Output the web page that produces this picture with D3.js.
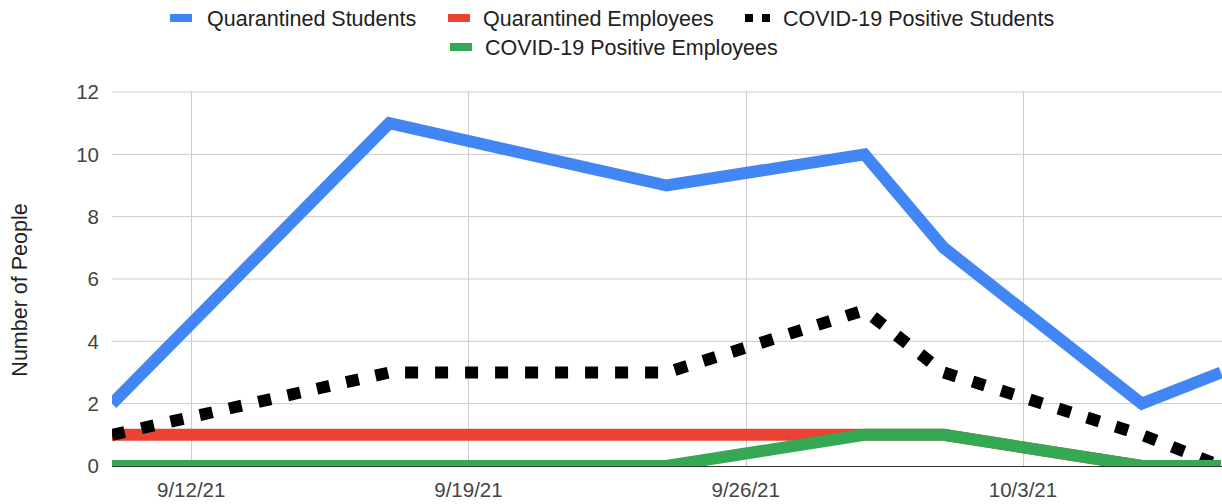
<!DOCTYPE html>
<html>
<head>
<meta charset="utf-8">
<script src="https://cdn.jsdelivr.net/npm/d3@7"></script>
<style>
  body { margin: 0; background: #fff; }
  text { font-family: Arial, "Liberation Sans", sans-serif; }
</style>
</head>
<body>
<div id="chart"></div>
<script>
// data
const dates = ["2021-09-10", "2021-09-17", "2021-09-24", "2021-09-29", "2021-10-01", "2021-10-06", "2021-10-08"];
const quarantinedStudents = [2, 11, 9, 10, 7, 2, 3];
const quarantinedEmployees = [1, 1, 1, 1, 1, 0, 0];
const positiveStudents = [1, 3, 3, 5, 3, 1, 0];
const positiveEmployees = [0, 0, 0, 1, 1, 0, 0];
const xTicks = ["2021-09-12", "2021-09-19", "2021-09-26", "2021-10-03"];
const yTicks = [0, 2, 4, 6, 8, 10, 12];

const seriesNames = ["Quarantined Students", "Quarantined Employees", "COVID-19 Positive Students", "COVID-19 Positive Employees"];
const seriesColors = ["#4285f4", "#ea4335", "#000000", "#34a853"];
const seriesValues = [quarantinedStudents, quarantinedEmployees, positiveStudents, positiveEmployees];

const W = 1222, H = 504;
const margin = { top: 92, right: 1, bottom: 38, left: 112 };

const parse = d3.timeParse("%Y-%m-%d");
const fmt = d3.timeFormat("%-m/%-d/%y");

const svg = d3.select("#chart")
    .append("svg")
    .attr("width", W)
    .attr("height", H);

const x = d3.scaleTime()
    .domain([parse(dates[0]), parse(dates[dates.length - 1])])
    .range([margin.left, W - margin.right]);

const y = d3.scaleLinear()
    .domain([0, 12])
    .range([H - margin.bottom, margin.top]);

// clip the plot area
svg.append("clipPath").attr("id", "plot")
    .append("rect")
    .attr("x", margin.left)
    .attr("y", margin.top - 10)
    .attr("width", W - margin.left)
    .attr("height", y(0) - margin.top + 10);

// horizontal gridlines
svg.append("g")
    .selectAll("line")
    .data(yTicks.filter(d => d > 0))
    .join("line")
    .attr("x1", margin.left)
    .attr("x2", W)
    .attr("y1", d => y(d))
    .attr("y2", d => y(d))
    .attr("stroke", "#cccccc")
    .attr("stroke-width", 1);

// vertical gridlines
svg.append("g")
    .selectAll("line")
    .data(xTicks.map(parse))
    .join("line")
    .attr("x1", d => Math.round(x(d)) + 0.5)
    .attr("x2", d => Math.round(x(d)) + 0.5)
    .attr("y1", y(12))
    .attr("y2", y(0))
    .attr("stroke", "#cccccc")
    .attr("stroke-width", 1);

// y axis labels
svg.append("g")
    .selectAll("text")
    .data(yTicks)
    .join("text")
    .attr("x", 99)
    .attr("y", d => y(d))
    .attr("dy", "0.36em")
    .attr("text-anchor", "end")
    .attr("font-size", 20.5)
    .attr("fill", "#444")
    .text(d => d);

// x axis labels
svg.append("g")
    .selectAll("text")
    .data(xTicks.map(parse))
    .join("text")
    .attr("x", d => x(d))
    .attr("y", 497)
    .attr("text-anchor", "middle")
    .attr("font-size", 20.5)
    .attr("fill", "#444")
    .text(d => fmt(d));

// y title
svg.append("text")
    .attr("transform", `translate(27, 290) rotate(-90)`)
    .attr("text-anchor", "middle")
    .attr("font-size", 21.5)
    .attr("fill", "#222")
    .text("Number of People");

// lines
const line = d3.line()
    .x((d, i) => x(parse(dates[i])))
    .y(d => y(d));

const plot = svg.append("g").attr("clip-path", "url(#plot)");

plot.selectAll("path")
    .data(seriesValues)
    .join("path")
    .attr("d", d => line(d))
    .attr("fill", "none")
    .attr("stroke", (d, i) => seriesColors[i])
    .attr("stroke-width", 12)
    .attr("stroke-linejoin", "miter")
    .attr("stroke-dasharray", (d, i) => i === 2 ? "13,17" : null);

// baseline
svg.append("line")
    .attr("x1", margin.left)
    .attr("x2", W)
    .attr("y1", y(0) + 0.5)
    .attr("y2", y(0) + 0.5)
    .attr("stroke", "#333")
    .attr("stroke-width", 1);

// legend
const legendPos = [
    { x: 170, y: 18, t: 37 },
    { x: 448, y: 18, t: 35 },
    { x: 745, y: 18, t: 38 },
    { x: 450, y: 47, t: 35 }
];

const legend = svg.append("g")
    .selectAll("g")
    .data(seriesNames)
    .join("g")
    .attr("transform", (d, i) => `translate(${legendPos[i].x}, ${legendPos[i].y})`);

legend.append("line")
    .attr("x1", 0)
    .attr("x2", (d, i) => i === 2 ? 26 : 22)
    .attr("y1", 0)
    .attr("y2", 0)
    .attr("stroke", (d, i) => seriesColors[i])
    .attr("stroke-width", 8)
    .attr("stroke-dasharray", (d, i) => i === 2 ? "8,9" : null);

legend.append("text")
    .attr("x", (d, i) => legendPos[i].t)
    .attr("y", 0)
    .attr("dy", "0.36em")
    .attr("font-size", 21.5)
    .attr("fill", "#222")
    .text(d => d);
</script>
</body>
</html>
